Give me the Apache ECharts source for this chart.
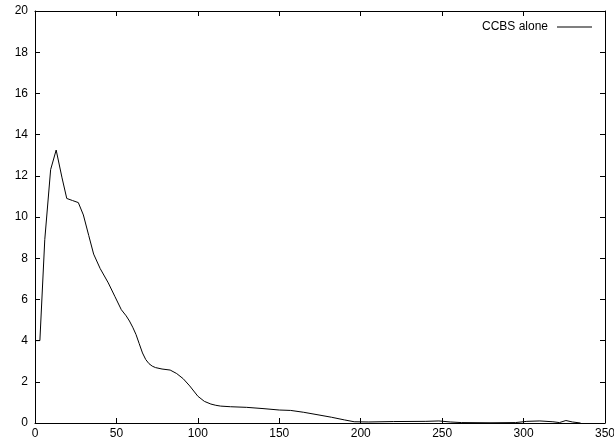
<!DOCTYPE html>
<html>
<head>
<meta charset="utf-8">
<script src="https://cdn.jsdelivr.net/npm/echarts@6/dist/echarts.min.js"></script>
<style>
html, body { margin: 0; padding: 0; background: #fff; }
#main { width: 614px; height: 444px; }
</style>
</head>
<body>
<div id="main"></div>
<script>
// CCBS alone curve
var seriesName = 'CCBS alone';
var xs = [0, 3, 6, 9.6, 13, 16.6, 19.5, 23, 26.6, 29.7, 33, 36, 40, 45, 49, 53, 56, 58, 60, 62, 64, 66, 68, 70, 72, 74, 78, 83, 87, 91, 95, 100, 104, 108, 111, 114, 120, 130, 140, 150, 157, 165, 175, 182, 190, 196, 205, 220, 240, 248, 255, 262, 280, 295, 302, 310, 318, 322, 326, 330, 335];
var ys = [4, 4, 8.9, 12.3, 13.25, 11.9, 10.9, 10.8, 10.7, 10.1, 9.1, 8.2, 7.5, 6.8, 6.15, 5.5, 5.2, 4.95, 4.65, 4.3, 3.85, 3.4, 3.08, 2.88, 2.76, 2.69, 2.62, 2.57, 2.4, 2.15, 1.8, 1.3, 1.05, 0.92, 0.86, 0.82, 0.79, 0.76, 0.7, 0.63, 0.61, 0.52, 0.38, 0.28, 0.15, 0.06, 0.05, 0.07, 0.08, 0.1, 0.05, 0.02, 0.01, 0.02, 0.08, 0.1, 0.06, 0.02, 0.12, 0.05, 0];
var xTicks = [0, 350, 50];   // min, max, interval
var yTicks = [0, 20, 2];

var pts = xs.map(function (x, i) { return [x, ys[i]]; });

var myChart = echarts.init(document.getElementById('main'));
var font = 'Liberation Sans, Arial, sans-serif';
var lineCol = '#000';

function axisBase(pos, show, isX) {
    var t = isX ? xTicks : yTicks;
    return {
        type: 'value',
        position: pos,
        min: t[0], max: t[1], interval: t[2],
        axisLine: { show: true, onZero: false, lineStyle: { color: lineCol, width: 1 } },
        axisTick: { show: true, inside: true, length: 5, lineStyle: { color: lineCol } },
        axisLabel: { show: show, color: '#000', fontSize: 12, fontFamily: font, margin: isX ? 5 : 7 },
        splitLine: { show: false }
    };
}

var option = {
    animation: false,
    backgroundColor: '#fff',
    grid: { left: 35, right: 9, top: 11, bottom: 21, outerBoundsMode: 'none' },
    legend: {
        data: [{ name: seriesName, icon: 'rect' }],
        right: 17,
        top: 16,
        align: 'right',
        itemWidth: 35,
        itemHeight: 1,
        itemGap: 0,
        textStyle: { color: '#000', fontSize: 12, fontFamily: font, padding: [0, 4, 0, 0] }
    },
    xAxis: [axisBase('bottom', true, true), axisBase('top', false, true)],
    yAxis: [axisBase('left', true, false), axisBase('right', false, false)],
    series: [
        {
            name: seriesName,
            type: 'line',
            data: pts,
            showSymbol: false,
            smooth: false,
            color: '#000',
            lineStyle: { color: '#000', width: 1 }
        }
    ]
};
myChart.setOption(option);
</script>
</body>
</html>
